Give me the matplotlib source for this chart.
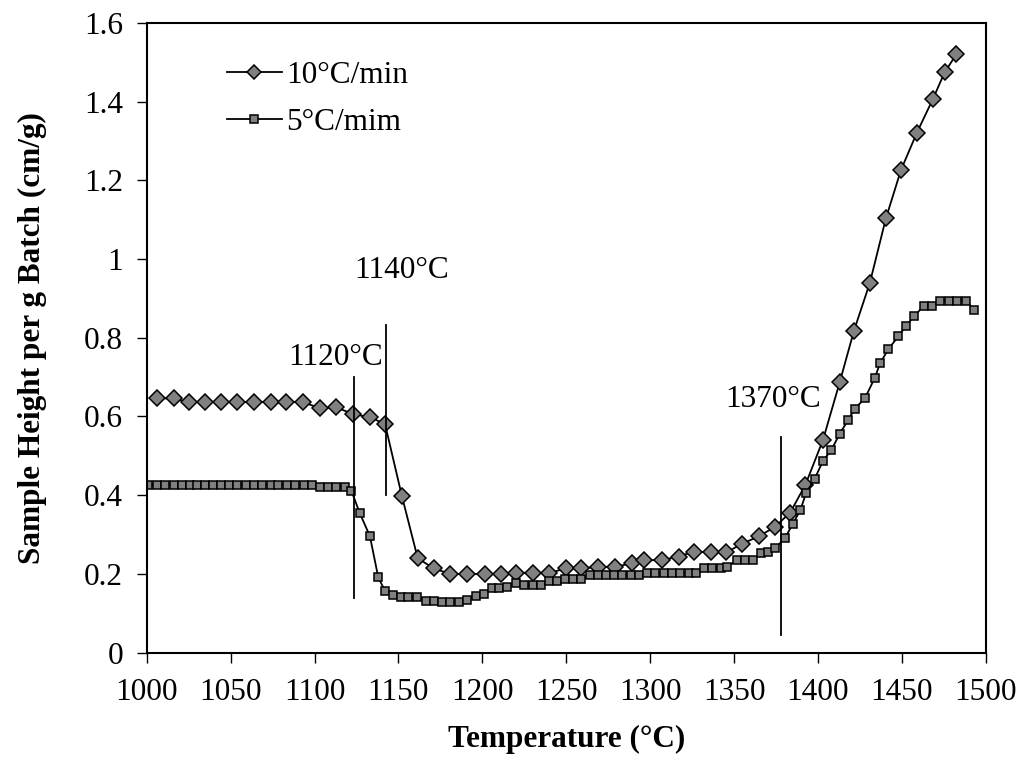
import matplotlib
matplotlib.use("Agg")
import matplotlib.pyplot as plt

plt.rcParams['font.family'] = ['Liberation Serif', 'DejaVu Serif']

# 10 C/min series
t10 = [1006, 1016, 1025, 1035, 1044, 1054, 1064, 1074, 1083, 1093, 1103, 1113,
       1123, 1133, 1142, 1152, 1161.5, 1171, 1181, 1191, 1201.5, 1211, 1220,
       1230, 1240, 1250, 1259, 1269, 1279, 1289, 1296.5, 1307, 1317, 1326,
       1336, 1345.5, 1354.5, 1365, 1374.5, 1383.5, 1392.5, 1403, 1413, 1421.5,
       1431, 1440.5, 1449.5, 1459, 1468.5, 1475.5, 1482.5]
h10 = [0.646, 0.646, 0.637, 0.637, 0.637, 0.637, 0.637, 0.637, 0.637, 0.637,
       0.621, 0.623, 0.606, 0.598, 0.581, 0.399, 0.240, 0.214, 0.200, 0.200,
       0.200, 0.200, 0.203, 0.203, 0.203, 0.214, 0.214, 0.218, 0.218, 0.227,
       0.235, 0.235, 0.244, 0.257, 0.255, 0.255, 0.276, 0.296, 0.320, 0.356,
       0.426, 0.540, 0.687, 0.818, 0.940, 1.103, 1.226, 1.321, 1.406, 1.474,
       1.520]

# 5 C/min series
t5 = [1001, 1006, 1011, 1016, 1021, 1025.5, 1030, 1035, 1039.5, 1044, 1049,
      1054, 1059, 1064, 1068.5, 1074, 1078.5, 1083.5, 1088.5, 1093.5, 1098.5,
      1103, 1108, 1113, 1118, 1122, 1127, 1133, 1138, 1142, 1147, 1151.5,
      1156, 1161, 1166.5, 1171, 1176, 1181, 1186, 1191, 1196, 1201, 1205.5,
      1210, 1215, 1220, 1225, 1230, 1235, 1240, 1244.5, 1249.5, 1254, 1259,
      1264, 1269, 1273.5, 1278.5, 1283.5, 1288.5, 1293.5, 1298, 1303, 1308,
      1313, 1318, 1323, 1327.5, 1332, 1337, 1342, 1346, 1351.5, 1356.5, 1361.5,
      1366, 1370.5, 1374.5, 1380.5, 1385, 1389.5, 1393, 1398, 1403, 1408,
      1413, 1418, 1422, 1428, 1434, 1437, 1442, 1448, 1452.5, 1457.5, 1463,
      1468, 1473, 1478, 1483, 1488.5, 1493]
h5 = [0.426] * 21 + [0.422, 0.422, 0.422, 0.422, 0.411, 0.354, 0.296, 0.191,
      0.157, 0.147, 0.142, 0.142, 0.142, 0.132, 0.132, 0.128, 0.128, 0.128,
      0.134, 0.144, 0.149, 0.164, 0.164, 0.168, 0.178, 0.172, 0.172, 0.172,
      0.182, 0.182, 0.187, 0.187, 0.187, 0.197, 0.197, 0.197, 0.197, 0.197,
      0.197, 0.197, 0.203, 0.203, 0.203, 0.203, 0.203, 0.203, 0.203, 0.214,
      0.214, 0.214, 0.218, 0.235, 0.235, 0.235, 0.252, 0.257, 0.265, 0.292,
      0.327, 0.362, 0.406, 0.441, 0.487, 0.515, 0.556, 0.591, 0.620, 0.646,
      0.699, 0.735, 0.771, 0.804, 0.830, 0.855, 0.881, 0.881, 0.894, 0.894,
      0.894, 0.894, 0.870]

# transition markers: temperature, line bottom, line top, label text, label pos
marks_x = [1123.7, 1142.6, 1377.8]
marks_lo = [0.138, 0.40, 0.045]
marks_hi = [0.70, 0.832, 0.547]
marks_txt = ['1120°C', '1140°C', '1370°C']
marks_tx = [1112.5, 1152, 1373.5]
marks_ty = [0.751, 0.971, 0.642]

FS = 22.5

fig = plt.figure(figsize=(10.24, 7.6), dpi=100)
ax = fig.add_axes([0.1433, 0.1412, 0.8193, 0.8288])

ax.plot(t10, h10, color='black', lw=1.3, marker='D', ms=8.3,
        mfc='#808080', mec='black', mew=1.1, label='10°C/min')
ax.plot(t5, h5, color='black', lw=1.3, marker='s', ms=6,
        mfc='#808080', mec='black', mew=1.1, label='5°C/mim')

for x, lo, hi, s, tx, ty in zip(marks_x, marks_lo, marks_hi, marks_txt,
                                marks_tx, marks_ty):
    ax.plot([x, x], [lo, hi], color='black', lw=1.3)
    ax.text(tx, ty, s, fontsize=FS, ha='center', va='center')

ax.set_xlim(1000, 1500)
ax.set_ylim(0, 1.6)
ax.set_xticks(range(1000, 1501, 50))
ax.set_yticks([0, 0.2, 0.4, 0.6, 0.8, 1, 1.2, 1.4, 1.6])
ax.set_yticklabels(['0', '0.2', '0.4', '0.6', '0.8', '1', '1.2', '1.4', '1.6'])
ax.tick_params(direction='out', length=7, width=1, labelsize=FS)
ax.tick_params(axis='x', pad=11)
ax.tick_params(axis='y', pad=10)
for sp in ax.spines.values():
    sp.set_linewidth(1.5)

ax.set_xlabel('Temperature (°C)', fontsize=FS, fontweight='bold', labelpad=13)
ax.set_ylabel('Sample Height per g Batch (cm/g)', fontsize=FS,
              fontweight='bold', labelpad=27)

ax.legend(loc='upper left', bbox_to_anchor=(0.0955, 0.94), frameon=False,
          fontsize=FS, handlelength=1.75, handletextpad=0.15,
          labelspacing=0.6, markerscale=0.85, borderaxespad=0, borderpad=0)

fig.savefig('out.png', dpi=100)
